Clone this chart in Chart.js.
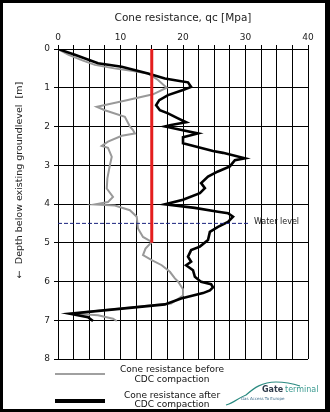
<!DOCTYPE html>
<html>
<head>
<meta charset="utf-8">
<script src="https://cdn.jsdelivr.net/npm/chart.js@4/dist/chart.umd.min.js"></script>
<style>
  html, body { margin: 0; padding: 0; background: #fff; }
  #c { display: block; }
</style>
</head>
<body>
<canvas id="c" width="330" height="412"></canvas>
<script>
// CPT profile: cone resistance qc [MPa] against depth [m]
const beforeQc = [0, 1.7, 4.0, 5.9, 9.0, 12.0, 14.4, 16.0, 17.4, 15.2, 11.0, 6.2, 7.5, 10.7, 11.5, 12.0, 12.3, 10.2, 8.0, 7.0, 8.0, 8.6, 8.3, 7.9, 7.8, 8.8, 8.0, 5.9, 9.1, 11.5, 12.6, 12.8, 13.6, 15.0, 14.0, 13.6, 15.0, 16.6, 17.9, 18.7, 19.2, 20.0, 20.0, 18.1, 15.0, 11.7, 4.8, 2.7, 6.4, 8.8, 9.4];
const beforeDepth = [0, 0.15, 0.30, 0.41, 0.50, 0.57, 0.63, 0.80, 1.00, 1.17, 1.32, 1.49, 1.58, 1.75, 2.00, 2.09, 2.18, 2.24, 2.39, 2.50, 2.55, 2.78, 3.00, 3.34, 3.60, 3.82, 3.95, 4.01, 4.04, 4.16, 4.33, 4.63, 4.85, 4.98, 5.15, 5.32, 5.45, 5.58, 5.75, 5.92, 6.00, 6.20, 6.36, 6.57, 6.61, 6.67, 6.78, 6.83, 6.87, 6.96, 7.02];

const afterQc = [0, 2.7, 6.4, 10.2, 14.4, 17.1, 19.7, 20.8, 21.3, 20.0, 17.6, 16.2, 15.7, 16.3, 17.6, 19.2, 20.5, 18.1, 17.1, 22.4, 20.0, 20.0, 24.8, 26.4, 29.9, 28.3, 27.5, 25.6, 24.0, 22.9, 23.5, 22.7, 20.0, 17.1, 21.9, 25.6, 27.2, 28.0, 27.2, 25.6, 24.3, 24.0, 22.7, 21.3, 20.8, 21.3, 20.5, 21.6, 21.9, 22.9, 24.5, 24.8, 24.3, 23.2, 19.7, 17.1, 10.2, 1.9, 4.8, 5.6];
const afterDepth = [0, 0.15, 0.37, 0.46, 0.63, 0.76, 0.83, 0.86, 0.98, 1.06, 1.19, 1.32, 1.45, 1.58, 1.66, 1.79, 1.89, 1.96, 2.00, 2.18, 2.28, 2.43, 2.63, 2.68, 2.82, 2.87, 3.03, 3.16, 3.29, 3.46, 3.59, 3.72, 3.89, 4.01, 4.10, 4.20, 4.24, 4.33, 4.46, 4.59, 4.72, 4.93, 5.10, 5.19, 5.36, 5.49, 5.58, 5.71, 5.88, 6.01, 6.07, 6.15, 6.23, 6.30, 6.44, 6.59, 6.70, 6.83, 6.92, 7.02];

// Design criterion (red) and groundwater level
const criterionQc = [15, 15];
const criterionDepth = [0, 5];
const waterQc = [0, 30.7];
const waterDepth = [4.5, 4.5];

const xTicks = [0, 10, 20, 30, 40];
const depthTicks = [0, 1, 2, 3, 4, 5, 6, 7, 8];

const pts = (xs, ys) => xs.map((x, i) => ({ x: x, y: ys[i] }));
const FONT = '"DejaVu Sans", Verdana, sans-serif';

const decorations = {
  id: 'decorations',
  beforeDraw(chart) {
    const ctx = chart.ctx;
    ctx.save();
    ctx.fillStyle = '#ffffff';
    ctx.fillRect(0, 0, chart.width, chart.height);
    ctx.restore();
  },
  afterDraw(chart) {
    const ctx = chart.ctx;
    const xs = chart.scales.x, ys = chart.scales.y;
    ctx.save();

    // water level label at the end of the dashed line
    ctx.fillStyle = '#222';
    ctx.font = '8px ' + FONT;
    ctx.textBaseline = 'middle';
    ctx.textAlign = 'left';
    ctx.fillText('Water level', xs.getPixelForValue(waterQc[1]) + 4, ys.getPixelForValue(waterDepth[1]) - 1);

    // vertical axis title
    ctx.save();
    ctx.translate(20, 180);
    ctx.rotate(-Math.PI / 2);
    ctx.textAlign = 'center';
    ctx.font = '9.5px ' + FONT;
    ctx.fillStyle = '#222';
    ctx.fillText('\u2190  Depth below existing groundlevel  [m]', 0, 0);
    ctx.restore();

    // legend
    ctx.lineCap = 'butt';
    ctx.strokeStyle = '#a0a0a0';
    ctx.lineWidth = 2;
    ctx.beginPath(); ctx.moveTo(55, 374); ctx.lineTo(105, 374); ctx.stroke();
    ctx.strokeStyle = '#000';
    ctx.lineWidth = 4;
    ctx.beginPath(); ctx.moveTo(55, 401); ctx.lineTo(105, 401); ctx.stroke();
    ctx.fillStyle = '#111';
    ctx.font = '9px ' + FONT;
    ctx.textAlign = 'center';
    ctx.textBaseline = 'middle';
    ctx.fillText('Cone resistance before', 172, 370);
    ctx.fillText('CDC compaction', 172, 380);
    ctx.fillText('Cone resistance after', 172, 396);
    ctx.fillText('CDC compaction', 172, 405);

    // company mark
    ctx.strokeStyle = '#2a8a80';
    ctx.lineWidth = 1.2;
    ctx.beginPath();
    ctx.moveTo(226, 405);
    ctx.bezierCurveTo(234, 403, 238, 398, 246, 395);
    ctx.bezierCurveTo(254, 388, 262, 382, 276, 382);
    ctx.bezierCurveTo(288, 382, 294, 384, 300, 386);
    ctx.stroke();
    ctx.textAlign = 'left';
    ctx.font = 'bold 8px ' + FONT;
    ctx.fillStyle = '#2e3a4a';
    ctx.fillText('Gate', 262, 390);
    ctx.font = '8px ' + FONT;
    ctx.fillStyle = '#3a9a90';
    ctx.fillText('terminal', 285, 390);
    ctx.font = '4px ' + FONT;
    ctx.fillStyle = '#3a6a8a';
    ctx.fillText('Gas Access To Europe', 241, 399);

    // black frame
    ctx.fillStyle = '#000';
    ctx.fillRect(0, 0, chart.width, 3);
    ctx.fillRect(0, chart.height - 3, chart.width, 3);
    ctx.fillRect(0, 0, 3, chart.height);
    ctx.fillRect(chart.width - 5, 0, 5, chart.height);
    ctx.restore();
  }
};

new Chart(document.getElementById('c'), {
  type: 'scatter',
  data: {
    datasets: [
      {
        label: 'Criterion',
        data: pts(criterionQc, criterionDepth),
        showLine: true, borderColor: '#e41e1e', borderWidth: 3,
        pointRadius: 0, order: 0
      },
      {
        label: 'Water level',
        data: pts(waterQc, waterDepth),
        showLine: true, borderColor: '#1a237e', borderWidth: 1,
        borderDash: [4, 2], pointRadius: 0, order: 1
      },
      {
        label: 'Cone resistance after CDC compaction',
        data: pts(afterQc, afterDepth),
        showLine: true, borderColor: '#000', borderWidth: 2.6,
        pointRadius: 0, tension: 0, order: 2
      },
      {
        label: 'Cone resistance before CDC compaction',
        data: pts(beforeQc, beforeDepth),
        showLine: true, borderColor: '#999999', borderWidth: 2,
        pointRadius: 0, tension: 0, order: 3
      }
    ]
  },
  options: {
    responsive: false,
    animation: false,
    layout: { padding: { left: 0, top: 0, right: 22, bottom: 53 } },
    plugins: { legend: { display: false }, tooltip: { enabled: false } },
    scales: {
      x: {
        type: 'linear', position: 'top', min: 0, max: 40,
        afterFit(s) { s.height = 49; },
        ticks: {
          stepSize: 2.5, padding: 2, autoSkip: false, maxRotation: 0,
          font: { family: FONT, size: 9 }, color: '#222',
          callback: v => xTicks.includes(v) ? String(v) : ''
        },
        grid: { color: '#000', lineWidth: 1, tickLength: 4 },
        border: { color: '#000', width: 1 },
        title: {
          display: true, text: 'Cone resistance, qc [Mpa]',
          font: { family: FONT, size: 10.5 }, color: '#222',
          padding: { top: 12, bottom: 4 }
        }
      },
      y: {
        type: 'linear', reverse: true, min: 0, max: 8,
        afterFit(s) { s.width = 58; },
        ticks: {
          stepSize: 1, padding: 4,
          font: { family: FONT, size: 9 }, color: '#222',
          callback: v => depthTicks.includes(v) ? String(v) : ''
        },
        grid: { color: '#000', lineWidth: 1, tickLength: 4 },
        border: { color: '#000', width: 1 }
      }
    }
  },
  plugins: [decorations]
});
</script>
</body>
</html>
